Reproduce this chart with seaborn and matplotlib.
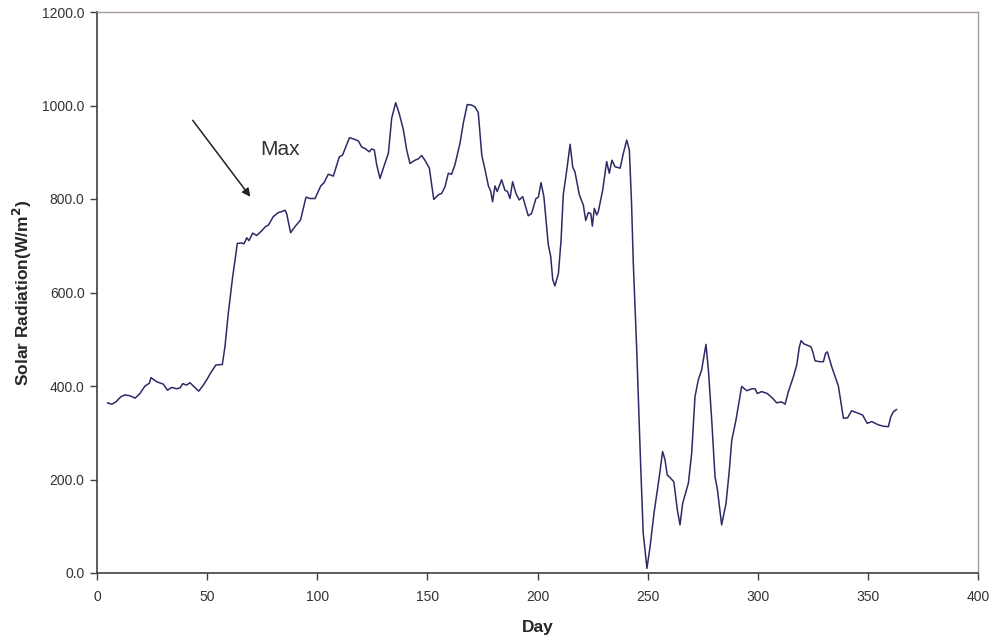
import matplotlib
matplotlib.use("Agg")
import matplotlib.pyplot as plt
import seaborn as sns
import pandas as pd

days = [4.7, 6.7, 8.6, 10.8, 12.7, 15.0, 17.3, 19.5, 21.8, 23.8, 24.5, 27.1, 30.1, 32.0, 33.9, 36.2,
        37.7, 38.9, 40.7, 42.2, 44.0, 46.2, 48.3, 49.8, 51.6, 54.0, 56.9, 58.1, 59.6, 61.6, 62.7,
        63.7, 65.7, 66.7, 68.0, 69.0, 70.7, 72.5, 74.8, 76.5, 77.8, 80.0, 82.3, 83.8, 85.4, 86.1,
        87.9, 89.9, 92.4, 94.9, 96.7, 99.0, 101.6, 103.1, 105.0, 107.3, 110.0, 111.5, 114.6, 116.8,
        118.7, 120.2, 121.7, 123.6, 124.7, 125.9, 127.0, 128.5, 130.0, 132.3, 133.8, 135.6, 137.2,
        139.1, 140.6, 142.1, 144.4, 145.9, 147.4, 148.9, 150.9, 152.9, 155.0, 156.5, 158.0, 159.5,
        161.0, 162.5, 164.8, 166.3, 168.1, 170.1, 171.6, 173.1, 174.7, 176.2, 177.7, 178.8, 179.6,
        180.7, 181.7, 183.7, 185.2, 186.4, 187.5, 188.7, 190.2, 191.7, 193.3, 195.8, 197.3, 199.3,
        200.4, 201.6, 202.9, 204.9, 206.0, 206.9, 207.9, 209.5, 210.7, 211.7, 213.3, 214.8, 216.0,
        217.0, 219.0, 220.8, 221.9, 223.1, 224.2, 224.9, 225.8, 226.9, 227.6, 229.6, 231.4, 232.6,
        233.8, 235.2, 237.5, 239.0, 240.5, 241.7, 242.7, 243.5, 245.0, 246.8, 248.0, 249.7, 251.1,
        252.9, 255.3, 256.8, 257.9, 258.9, 260.4, 261.9, 263.5, 264.7, 265.9, 268.5, 270.0, 271.5,
        273.0, 274.5, 276.5, 277.6, 279.1, 280.6, 281.7, 283.6, 285.6, 287.1, 288.2, 290.1, 292.7,
        295.0, 297.3, 298.8, 299.8, 301.8, 304.3, 306.7, 308.6, 310.8, 312.4, 313.9, 316.2, 317.7,
        318.9, 319.7, 321.0, 323.0, 324.1, 325.0, 326.0, 328.0, 329.8, 330.8, 331.6, 333.6, 336.6,
        338.9, 340.8, 342.6, 344.9, 347.6, 349.7, 351.7, 354.7, 357.0, 359.3, 360.4, 361.6, 363.1]

radiation = [364, 361, 366, 377, 381, 379, 374, 384, 400, 406, 418, 409, 404, 391, 397, 394,
             396, 405, 402, 407, 399, 389, 402, 413, 428, 445, 446, 484, 555, 634, 670,
             705, 706, 704, 717, 711, 727, 722, 732, 741, 744, 762, 771, 773, 776, 769,
             728, 741, 755, 804, 801, 801, 828, 835, 853, 849, 890, 894, 931, 928,
             924, 911, 908, 901, 907, 905, 873, 844, 866, 898, 973, 1006, 983,
             948, 905, 876, 883, 886, 893, 883, 866, 799, 809, 812, 826, 855,
             853, 873, 919, 962, 1002, 1001, 997, 985, 894, 862, 828, 816, 794,
             828, 816, 841, 819, 816, 801, 837, 812, 798, 805, 764, 769, 801,
             804, 835, 805, 702, 677, 628, 614, 641, 712, 809, 862, 917, 868,
             858, 809, 787, 754, 771, 769, 742, 780, 766, 773, 819, 880, 855,
             883, 869, 866, 898, 926, 905, 791, 662, 484, 235, 85, 10, 56,
             128, 206, 260, 242, 210, 203, 195, 135, 103, 149, 192, 256, 377,
             413, 434, 489, 434, 327, 206, 178, 103, 149, 220, 284, 327, 399,
             390, 394, 394, 384, 388, 384, 374, 364, 366, 361, 388, 420, 445,
             484, 497, 490, 486, 484, 473, 454, 452, 452, 470, 473, 441, 400,
             331, 332, 347, 343, 338, 320, 324, 317, 314, 313, 334, 345, 350]

x_ticks = [0, 50, 100, 150, 200, 250, 300, 350, 400]
y_ticks = [0, 200, 400, 600, 800, 1000, 1200]
y_tick_labels = [f"{v:.1f}" for v in y_ticks]

df = pd.DataFrame({"Day": days, "Radiation": radiation})

sns.set_style("white")
plt.rcParams["font.family"] = ["Liberation Sans", "DejaVu Sans"]

fig = plt.figure(figsize=(9.97, 6.42), dpi=100)
ax = fig.add_axes([97 / 997, (642 - 573) / 642, (978 - 97) / 997, (573 - 12) / 642])

sns.lineplot(data=df, x="Day", y="Radiation", ax=ax, color="#2b2b66", linewidth=1.1,
             estimator=None, sort=False)

ax.set_xlim(0, 400)
ax.set_ylim(0, 1200)
ax.set_xticks(x_ticks)
ax.set_xticklabels([str(v) for v in x_ticks], fontsize=10, color="#333333")
ax.set_yticks(y_ticks)
ax.set_yticklabels(y_tick_labels, fontsize=10, color="#333333")
ax.tick_params(axis="both", direction="out", length=5, width=1, color="#404040",
               bottom=True, left=True)
ax.tick_params(axis="x", pad=7)
ax.tick_params(axis="y", pad=4)

for side in ["left", "bottom"]:
    ax.spines[side].set_color("#404040")
    ax.spines[side].set_linewidth(1.2)
for side in ["top", "right"]:
    ax.spines[side].set_color("#a89a9a")
    ax.spines[side].set_linewidth(1.0)

ax.set_xlabel("Day", fontsize=12.5, fontweight="bold", labelpad=12)
ax.set_ylabel("Solar Radiation(W/m$^\\mathbf{2}$)", fontsize=12.5, fontweight="bold", labelpad=6)

ax.annotate("", xy=(70.4, 800), xytext=(42.7, 973),
            arrowprops=dict(arrowstyle="-|>", color="#222222", lw=1.1, mutation_scale=12))
ax.text(82.9, 905, "Max", fontsize=15, color="#333333", ha="center", va="center")

fig.savefig("out.png", dpi=100)
